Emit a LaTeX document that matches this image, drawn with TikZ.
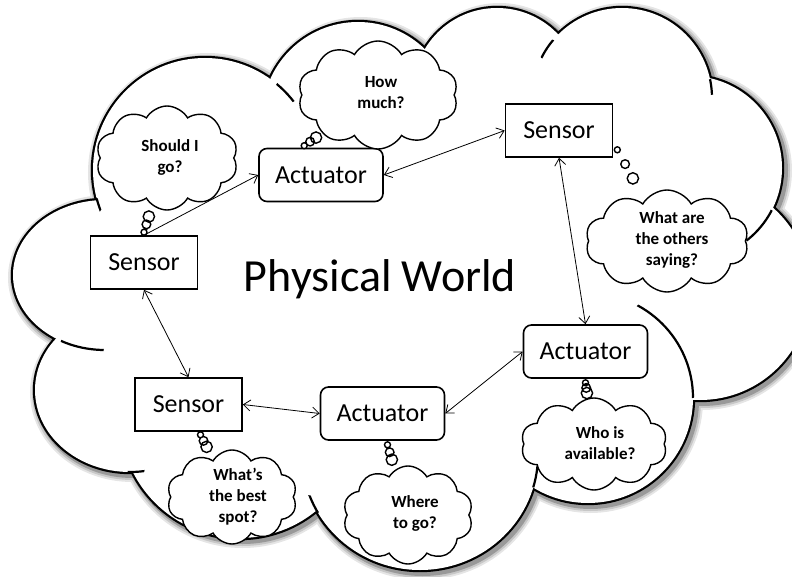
\documentclass[tikz,border=0pt]{standalone}
\usepackage{fontspec}
\setmainfont{Carlito}
\usetikzlibrary{positioning,shapes.symbols,shapes.callouts,arrows.meta}

\tikzset{
  sensorbox/.style={draw, line width=1.6pt, fill=white, inner sep=0pt,
    minimum width=107pt, minimum height=53pt, font=\fontsize{26}{30}\selectfont},
  actbox/.style={sensorbox, rounded corners=8pt, minimum width=124pt},
  thought/.style={cloud callout, draw, fill=white, line width=1.4pt, inner sep=0pt,
    cloud puffs=10, cloud puff arc=120, callout pointer segments=3,
    callout pointer start size=14pt, callout pointer end size=6pt},
  thoughttext/.style={align=center, font=\bfseries\fontsize{17}{21}\selectfont},
  link/.style={{Straight Barb[length=7pt,width=11pt]}-{Straight Barb[length=7pt,width=11pt]}, line width=0.8pt}
}
% puffs of the big cloud: x/y/x radius/y radius
\def\puffs{205/170/112/112, 358/118/96/96, 497/92/84/84, 622/98/90/90, 690/168/92/92,
  700/290/110/110, 588/398/105/105, 420/455/118/115, 240/418/120/120, 130/390/95/82, 105/275/92/75}

\begin{document}
\begin{tikzpicture}[x=1pt, y=-1pt]
  \useasboundingbox (0,0) rectangle (792,577);
  \clip (0,0) rectangle (792,577);

  % big cloud: shadow, outline, then white inside
  \foreach \w/\c in {15/black!10, 11/black!22, 7/black!40}
    \foreach \x/\y/\rx/\ry in \puffs
      \draw[line width=\w pt, color=\c, shift={(2.5,2.5)}] (\x,\y) ellipse[x radius=\rx, y radius=\ry];
  \foreach \x/\y/\rx/\ry in \puffs
    \draw[line width=4.4pt] (\x,\y) ellipse[x radius=\rx, y radius=\ry];
  \foreach \x/\y/\rx/\ry in \puffs
    \fill[white] (\x,\y) ellipse[x radius=\rx, y radius=\ry];
  \fill[white] (205,170) -- (358,118) -- (497,92) -- (622,98) -- (690,168) -- (700,290)
    -- (588,398) -- (420,455) -- (240,418) -- (130,390) -- (105,275) -- cycle;
  % inner arcs where the puffs meet
  \foreach \x/\y/\rx/\ry/\cx/\cy/\r in {205/170/112/112/93/206/9, 205/170/112/112/288/90/13,
      622/98/90/90/549/50/11, 622/98/90/90/711/87/8, 690/168/92/92/761/227/20,
      588/398/105/105/678/344/56, 420/455/118/115/536/477/11, 420/455/118/115/308/507/12,
      130/390/95/82/136/468/9, 105/275/92/75/82/347/22}
  {
    \begin{scope}
      \clip (\cx,\cy) circle[radius=\r];
      \draw[line width=2.2pt] (\x,\y) ellipse[x radius=\rx, y radius=\ry];
    \end{scope}
  }

  \node[font=\fontsize{46}{50}\selectfont] (world) at (380,279) {Physical World};

  \node[sensorbox] (sl) at (144,262.5) {Sensor};
  \node[actbox] (at) at (321,175) {Actuator};
  \node[sensorbox] (sr) at (559,130.5) {Sensor};
  \node[actbox] (ar) at (585.5,351.5) {Actuator};
  \node[actbox] (ab) at (382.5,413.5) {Actuator};
  \node[sensorbox] (sb) at (188.5,404.5) {Sensor};

  \draw[link] (sl.north) -- (at.west);
  \draw[link] (at.east) -- (sr.west);
  \draw[link] (sr.south) -- (ar.north);
  \draw[link] (ar.west) -- (ab.east);
  \draw[link] (ab.west) -- (sb.east);
  \draw[link] (sb.north) -- (sl.south);

  % thought bubbles
  \node[thought, minimum width=142pt, minimum height=104pt,
    callout absolute pointer={([yshift=3pt]sl.north)}] (go) at (167,158) {};
  \node[thoughttext] (gotext) at (170,157) {Should I\\go?};

  \node[thought, minimum width=160pt, minimum height=108pt,
    callout absolute pointer={([xshift=46pt,yshift=2pt]at.north west)}] (much) at (378,95) {};
  \node[thoughttext] (muchtext) at (381,93) {How\\much?};

  \node[thought, minimum width=163pt, minimum height=102pt,
    callout absolute pointer={([xshift=4pt,yshift=8pt]sr.south east)}] (others) at (667,241) {};
  \node[thoughttext] (otherstext) at (672,240) {What are\\the others\\saying?};

  \node[thought, minimum width=146pt, minimum height=92pt,
    callout absolute pointer={([yshift=-4pt]ar.south)}] (who) at (594,444) {};
  \node[thoughttext] (whotext) at (600,443) {Who is\\available?};

  \node[thought, minimum width=130pt, minimum height=98pt,
    callout absolute pointer={([xshift=5pt,yshift=-4pt]ab.south)}] (where) at (408,515) {};
  \node[thoughttext] (wheretext) at (415,513) {Where\\to go?};

  \node[thought, minimum width=130pt, minimum height=94pt,
    callout absolute pointer={([xshift=12pt,yshift=-3pt]sb.south)}] (spot) at (232,497) {};
  \node[thoughttext] (spottext) at (238,497) {What's\\the best\\spot?};
\end{tikzpicture}
\end{document}
